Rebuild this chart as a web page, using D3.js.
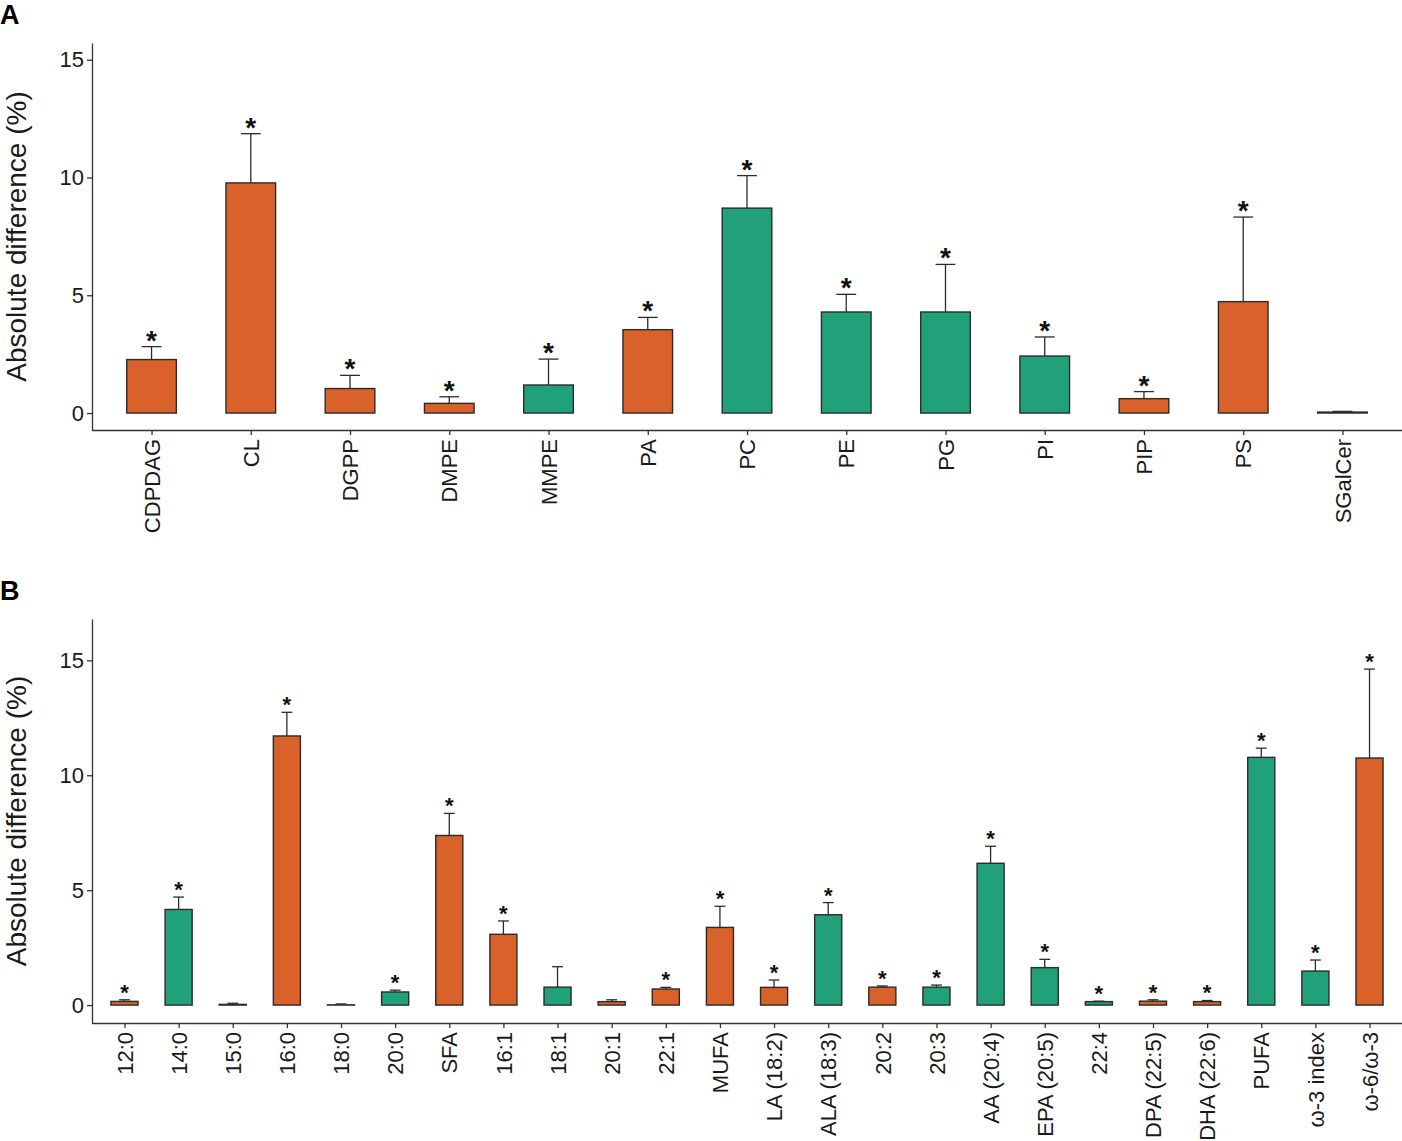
<!DOCTYPE html>
<html>
<head>
<meta charset="utf-8">
<script src="https://cdn.jsdelivr.net/npm/d3@7"></script>
<style>
  body { margin: 0; background: #fff; }
  svg { display: block; font-family: "Liberation Sans", Arial, sans-serif; }
</style>
</head>
<body>
<svg id="chart" width="1402" height="1141"></svg>
<script>
"use strict";

// Panel A - phospholipid classes
var lipidClasses = ["CDPDAG", "CL", "DGPP", "DMPE", "MMPE", "PA", "PC", "PE", "PG", "PI", "PIP", "PS", "SGalCer"];
var lipidMeans   = [2.27, 9.77, 1.04, 0.41, 1.19, 3.54, 8.70, 4.29, 4.29, 2.42, 0.61, 4.73, 0.04];
var lipidUpper   = [2.82, 11.86, 1.60, 0.69, 2.29, 4.06, 10.08, 5.04, 6.31, 3.23, 0.91, 8.32, 0.07];
var lipidGroup   = [1, 1, 1, 1, 2, 1, 2, 2, 2, 2, 1, 1, 1];
var lipidSig     = [1, 1, 1, 1, 1, 1, 1, 1, 1, 1, 1, 1, 0];

// Panel B - fatty acids
var fattyAcids = ["12:0", "14:0", "15:0", "16:0", "18:0", "20:0", "SFA", "16:1", "18:1", "20:1", "22:1", "MUFA",
                  "LA (18:2)", "ALA (18:3)", "20:2", "20:3", "AA (20:4)", "EPA (20:5)", "22:4", "DPA (22:5)",
                  "DHA (22:6)", "PUFA", "ω-3 index", "ω-6/ω-3"];
var faMeans = [0.16, 4.16, 0.03, 11.71, 0.01, 0.57, 7.38, 3.08, 0.78, 0.15, 0.70, 3.38,
               0.77, 3.93, 0.78, 0.78, 6.17, 1.63, 0.15, 0.17, 0.15, 10.78, 1.48, 10.75];
var faUpper = [0.23, 4.70, 0.08, 12.74, 0.05, 0.65, 8.34, 3.66, 1.67, 0.23, 0.77, 4.30,
               1.09, 4.46, 0.83, 0.87, 6.91, 1.99, 0.17, 0.23, 0.20, 11.18, 1.96, 14.62];
var faGroup = [1, 2, 2, 1, 1, 2, 1, 1, 2, 1, 1, 1,
               1, 2, 1, 2, 2, 2, 2, 1, 1, 2, 2, 1];
var faSig   = [1, 1, 0, 1, 0, 1, 1, 1, 0, 0, 1, 1,
               1, 1, 1, 1, 1, 1, 1, 1, 1, 1, 1, 1];

var yTicks = [0, 5, 10, 15];

var color = d3.scaleOrdinal().domain([1, 2]).range(["#D9612A", "#21A179"]);
var svg = d3.select("#chart");

// draws one bar panel with upper error bars and significance stars
function drawPanel(cfg) {
  var g = svg.append("g");

  var x = d3.scalePoint().domain(cfg.cats).range([cfg.left, cfg.right]).padding(0.6);
  var y = d3.scaleLinear().domain(cfg.yDomain).range([cfg.bottom, cfg.top]);
  var bw = x.step() * 0.5;
  var capW = bw * 0.4;

  var rows = cfg.cats.map(function(c, i) {
    return {cat: c, mean: cfg.means[i], upper: cfg.upper[i], group: cfg.group[i], sig: cfg.sig[i]};
  });

  // error bars first so the bar covers the lower half
  var err = g.append("g").attr("stroke", "#2b2b2b").attr("stroke-width", 1.3);
  err.selectAll("line.stem")
    .data(rows).enter().append("line")
    .attr("x1", function(d) { return x(d.cat); })
    .attr("x2", function(d) { return x(d.cat); })
    .attr("y1", function(d) { return y(d.mean); })
    .attr("y2", function(d) { return y(d.upper); });
  err.selectAll("line.cap")
    .data(rows).enter().append("line")
    .attr("x1", function(d) { return x(d.cat) - capW / 2; })
    .attr("x2", function(d) { return x(d.cat) + capW / 2; })
    .attr("y1", function(d) { return y(d.upper); })
    .attr("y2", function(d) { return y(d.upper); });

  g.selectAll("rect.bar")
    .data(rows).enter().append("rect")
    .attr("class", "bar")
    .attr("x", function(d) { return x(d.cat) - bw / 2; })
    .attr("width", bw)
    .attr("y", function(d) { return y(d.mean); })
    .attr("height", function(d) { return y(0) - y(d.mean); })
    .attr("fill", function(d) { return color(d.group); })
    .attr("stroke", "#2b2b2b")
    .attr("stroke-width", 1.4);

  g.selectAll("text.star")
    .data(rows.filter(function(d) { return d.sig; })).enter().append("text")
    .attr("x", function(d) { return x(d.cat); })
    .attr("y", function(d) { return y(d.upper) + cfg.starShift; })
    .attr("text-anchor", "middle")
    .attr("font-size", cfg.starSize)
    .attr("font-weight", "bold")
    .attr("fill", "#111")
    .text("*");

  // axes
  var yAxis = g.append("g")
    .attr("transform", "translate(" + cfg.left + ",0)")
    .call(d3.axisLeft(y).tickValues(yTicks).tickSize(5).tickSizeOuter(0).tickPadding(3));
  yAxis.selectAll("text").attr("font-size", 22).attr("fill", "#1a1a1a").attr("font-family", null);

  var xAxis = g.append("g")
    .attr("transform", "translate(0," + cfg.bottom + ")")
    .call(d3.axisBottom(x).tickSize(5).tickSizeOuter(0));
  xAxis.select(".domain").attr("d", "M" + cfg.left + ",0.5H" + cfg.right);
  xAxis.selectAll(".tick text")
    .attr("font-size", 22)
    .attr("fill", "#1a1a1a")
    .attr("font-family", null)
    .attr("text-anchor", "end")
    .attr("transform", "rotate(-90)")
    .attr("x", -9)
    .attr("y", 0)
    .attr("dy", "0.35em");
  g.selectAll(".domain, .tick line").attr("stroke", "#333").attr("stroke-width", 1.3);

  g.append("text")
    .attr("transform", "translate(26," + (cfg.top + cfg.bottom) / 2 + ") rotate(-90)")
    .attr("text-anchor", "middle")
    .attr("font-size", 28)
    .attr("fill", "#1a1a1a")
    .text("Absolute difference (%)");

  g.append("text")
    .attr("x", 0)
    .attr("y", cfg.top - 19)
    .attr("font-size", 27)
    .attr("font-weight", "bold")
    .text(cfg.label);
}

drawPanel({
  label: "A", cats: lipidClasses, means: lipidMeans, upper: lipidUpper, group: lipidGroup, sig: lipidSig,
  left: 92, right: 1402, top: 43, bottom: 430, yDomain: [-0.72, 15.71], starSize: 28, starShift: 3
});

drawPanel({
  label: "B", cats: fattyAcids, means: faMeans, upper: faUpper, group: faGroup, sig: faSig,
  left: 92, right: 1402, top: 619, bottom: 1023, yDomain: [-0.78, 16.8], starSize: 22, starShift: 0
});
</script>
</body>
</html>
